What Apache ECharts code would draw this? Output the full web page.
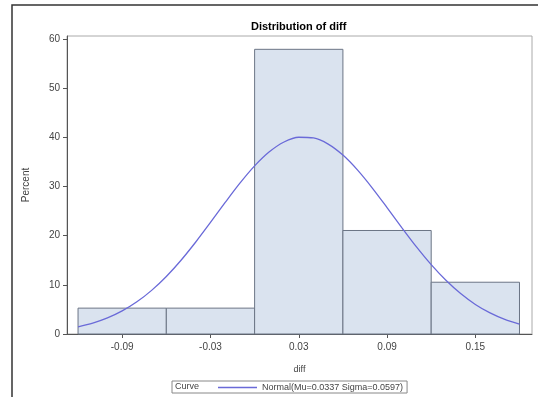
<!DOCTYPE html>
<html>
<head>
<meta charset="utf-8">
<script src="https://cdn.jsdelivr.net/npm/echarts@6/dist/echarts.min.js"></script>
<style>
html,body{margin:0;padding:0;background:#fff;}
#main{width:538px;height:397px;}
</style>
</head>
<body>
<div id="main"></div>
<script>
// Histogram bins (diff) and percent values
var binStart = [-0.12, -0.06, 0.00, 0.06, 0.12];
var binEnd   = [-0.06,  0.00, 0.06, 0.12, 0.18];
var percent  = [5.26, 5.26, 57.89, 21.05, 10.53];

// Fitted normal curve points
var curveX = [-0.12,-0.11,-0.10,-0.09,-0.08,-0.07,-0.06,-0.05,-0.04,-0.03,-0.02,-0.01,0.00,0.01,0.02,0.03,0.04,0.05,0.06,0.07,0.08,0.09,0.10,0.11,0.12,0.13,0.14,0.15,0.16,0.17,0.18];
var curveY = [1.46,2.21,3.27,4.69,6.54,8.87,11.70,15.00,18.71,22.69,26.75,30.67,34.19,37.05,39.05,40.01,39.87,38.62,36.38,33.32,29.68,25.70,21.64,17.71,14.10,10.92,8.22,6.01,4.28,2.96,1.99];

var xTicks = [-0.09, -0.03, 0.03, 0.09, 0.15];
var xTickLabels = ['-0.09', '-0.03', '0.03', '0.09', '0.15'];
var yTicks = [0, 10, 20, 30, 40, 50, 60];

var histData = binStart.map(function (s, i) { return [s, binEnd[i], percent[i]]; });
var curveData = curveX.map(function (x, i) { return [x, curveY[i]]; });

var chart = echarts.init(document.getElementById('main'), null, {renderer: 'canvas'});
var labelFont = {color: '#444', fontSize: 10, fontFamily: 'Arial, Liberation Sans, sans-serif'};

chart.setOption({
  animation: false,
  backgroundColor: '#fff',
  title: {
    text: 'Distribution of diff',
    left: 246, top: 16,
    textStyle: {fontSize: 11, fontWeight: 'bold', color: '#000', fontFamily: 'Arial, Liberation Sans, sans-serif'}
  },
  graphic: [
    {type: 'rect', shape: {x: 12, y: 5, width: 540, height: 400}, style: {fill: 'none', stroke: '#333', lineWidth: 1.5}, silent: true, z: 100},
    {type: 'text', left: 175, top: 382, style: {text: 'Curve', fill: '#444', font: '9px Arial, Liberation Sans, sans-serif'}, z: 100}
  ],
  grid: {left: 67, top: 36, right: 6, bottom: 63, show: true, borderColor: '#aaa', borderWidth: 1, backgroundColor: '#fff'},
  legend: {
    left: 172, top: 381,
    padding: [2, 4, 1, 46],
    borderColor: '#888', borderWidth: 1,
    itemWidth: 39, itemHeight: 1.3, itemGap: 5,
    textStyle: {color: '#444', fontSize: 9, fontFamily: 'Arial, Liberation Sans, sans-serif'},
    data: [{name: 'Normal(Mu=0.0337 Sigma=0.0597)', icon: 'rect'}]
  },
  xAxis: {
    type: 'value', min: -0.1275, max: 0.1885,
    name: 'diff', nameLocation: 'middle', nameGap: 31,
    nameTextStyle: {color: '#444', fontSize: 9, fontFamily: 'Arial, Liberation Sans, sans-serif'},
    splitLine: {show: false},
    axisLine: {show: true, onZero: false, lineStyle: {color: '#555', width: 1}},
    axisTick: {show: true, length: 4, customValues: xTicks, lineStyle: {color: '#555'}},
    axisLabel: Object.assign({margin: 8, customValues: xTicks, formatter: function (v) {
      for (var i = 0; i < xTicks.length; i++) { if (Math.abs(v - xTicks[i]) < 1e-9) return xTickLabels[i]; }
      return '';
    }}, labelFont)
  },
  yAxis: {
    type: 'value', min: 0, max: 60.6,
    name: 'Percent', nameLocation: 'middle', nameGap: 36,
    nameTextStyle: {color: '#444', fontSize: 10, fontFamily: 'Arial, Liberation Sans, sans-serif'},
    splitLine: {show: false},
    axisLine: {show: true, onZero: false, lineStyle: {color: '#555', width: 1}},
    axisTick: {show: true, length: 4, customValues: yTicks, lineStyle: {color: '#555'}},
    axisLabel: Object.assign({margin: 7, customValues: yTicks}, labelFont)
  },
  series: [
    {
      type: 'custom',
      name: 'hist',
      data: histData,
      encode: {x: [0, 1], y: 2},
      renderItem: function (params, api) {
        var p0 = api.coord([api.value(0), 0]);
        var p1 = api.coord([api.value(1), api.value(2)]);
        return {
          type: 'rect',
          shape: {x: p0[0], y: p1[1], width: p1[0] - p0[0], height: p0[1] - p1[1]},
          style: {fill: '#dae3ef', stroke: '#6b7585', lineWidth: 1}
        };
      },
      z: 2
    },
    {
      type: 'line',
      name: 'Normal(Mu=0.0337 Sigma=0.0597)',
      data: curveData,
      smooth: 0.3,
      symbol: 'none',
      lineStyle: {color: '#6a6ad8', width: 1.3},
      itemStyle: {color: '#6a6ad8'},
      z: 3
    }
  ]
});
</script>
</body>
</html>
